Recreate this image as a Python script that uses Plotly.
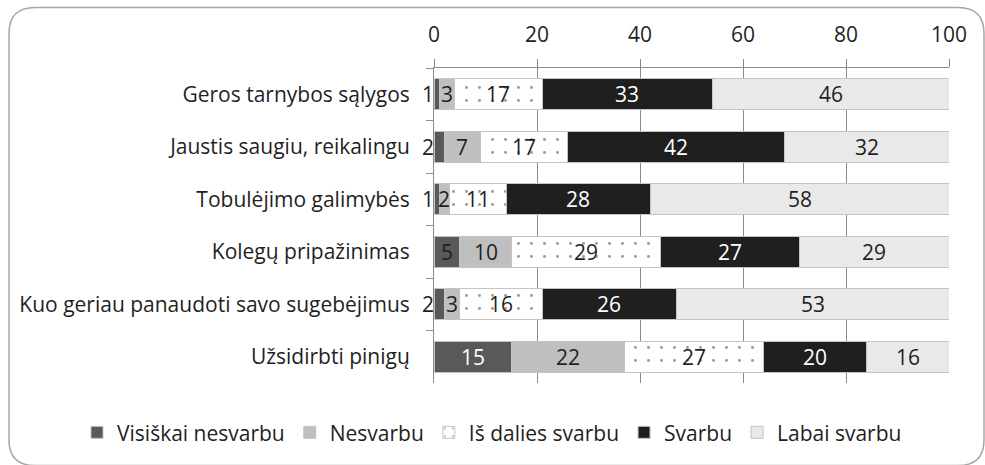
import plotly.graph_objects as go

categories = [
    "Geros tarnybos sąlygos",
    "Jaustis saugiu, reikalingu",
    "Tobulėjimo galimybės",
    "Kolegų pripažinimas",
    "Kuo geriau panaudoti savo sugebėjimus",
    "Užsidirbti pinigų",
]
series_names = ["Visiškai nesvarbu", "Nesvarbu", "Iš dalies svarbu", "Svarbu", "Labai svarbu"]
visiskai_nesvarbu = [1, 2, 1, 5, 2, 15]
nesvarbu = [3, 7, 2, 10, 3, 22]
is_dalies_svarbu = [17, 17, 11, 29, 16, 27]
svarbu = [33, 42, 28, 27, 26, 20]
labai_svarbu = [46, 32, 58, 29, 53, 16]
x_ticks = [0, 20, 40, 60, 80, 100]

series_values = [visiskai_nesvarbu, nesvarbu, is_dalies_svarbu, svarbu, labai_svarbu]
colors = ["#595959", "#bfbfbf", "#ffffff", "#1f1f1f", "#e9e9e9"]
label_colors = ["#1f1f1f", "#1f1f1f", "#1f1f1f", "#ffffff", "#1f1f1f"]

FONT = "Open Sans"
FS = 21

fig = go.Figure()
for i, (name, vals) in enumerate(zip(series_names, series_values)):
    marker = dict(color=colors[i], line=dict(color="#c4c4c4", width=1))
    if i == 2:
        marker["pattern"] = dict(shape=".", fgcolor="#333333", bgcolor="#ffffff", size=13, solidity=0.04)
    fig.add_trace(go.Bar(
        y=categories, x=vals, name=name, orientation="h", marker=marker,
        hoverinfo="x+name",
    ))

annotations = []
for c_idx, cat in enumerate(categories):
    cum = 0
    for s_idx, vals in enumerate(series_values):
        v = vals[c_idx]
        col = label_colors[s_idx]
        if s_idx == 0 and v >= 10:
            col = "#ffffff"
        if s_idx == 0 and v <= 2:
            annotations.append(dict(x=0, y=cat, xref="x", yref="y", text=str(v), showarrow=False,
                                    xanchor="right", xshift=2,
                                    font=dict(family=FONT, size=FS, color=col)))
        else:
            annotations.append(dict(x=cum + v / 2, y=cat, xref="x", yref="y", text=str(v), showarrow=False,
                                    font=dict(family=FONT, size=FS, color=col)))
        cum += v

# rounded frame around the chart (pixel geometry converted to paper coords)
W, H = 985, 465
ml, mr, mt, mb = 434, 36, 68, 80
pw, ph = W - ml - mr, H - mt - mb
def px(xp):
    return (xp - ml) / pw
def py(yp):
    return (H - mb - yp) / ph
x0, x1, y0, y1, r = 9, 984, 7, 468, 26
path = (f"M {px(x0 + r)},{py(y0)} L {px(x1 - r)},{py(y0)} Q {px(x1)},{py(y0)} {px(x1)},{py(y0 + r)} "
        f"L {px(x1)},{py(y1 - r)} Q {px(x1)},{py(y1)} {px(x1 - r)},{py(y1)} "
        f"L {px(x0 + r)},{py(y1)} Q {px(x0)},{py(y1)} {px(x0)},{py(y1 - r)} "
        f"L {px(x0)},{py(y0 + r)} Q {px(x0)},{py(y0)} {px(x0 + r)},{py(y0)} Z")

fig.update_layout(
    barmode="stack",
    bargap=0.41,
    width=W, height=H,
    margin=dict(l=ml, r=mr, t=mt, b=mb, pad=0),
    paper_bgcolor="#ffffff",
    plot_bgcolor="#ffffff",
    font=dict(family=FONT, size=FS, color="#1f1f1f"),
    annotations=annotations,
    shapes=[dict(type="path", path=path, xref="paper", yref="paper",
                 line=dict(color="#a6a6a6", width=1.5), layer="below")],
    legend=dict(orientation="h", xref="paper", x=px(77), xanchor="left",
                yref="paper", y=py(435), yanchor="middle",
                font=dict(family=FONT, size=FS, color="#1f1f1f"),
                traceorder="normal", itemwidth=30),
    xaxis=dict(side="top", range=[0, 100], tickvals=x_ticks, ticktext=[str(t) for t in x_ticks],
               showgrid=True, gridcolor="#8c8c8c", gridwidth=1,
               showline=True, linecolor="#8c8c8c", linewidth=1,
               ticks="outside", ticklen=8, tickcolor="#8c8c8c",
               ticklabelstandoff=9, zeroline=False, fixedrange=True),
    yaxis=dict(autorange="reversed", showgrid=False, showline=True, linecolor="#8c8c8c", linewidth=1,
               ticks="outside", ticklen=7, tickcolor="#8c8c8c", tickson="boundaries",
               ticklabelstandoff=19, fixedrange=True),
)

fig.write_html("out.html", config={"displayModeBar": False},
               post_script="document.body.style.margin='0';document.body.style.padding='0';")
